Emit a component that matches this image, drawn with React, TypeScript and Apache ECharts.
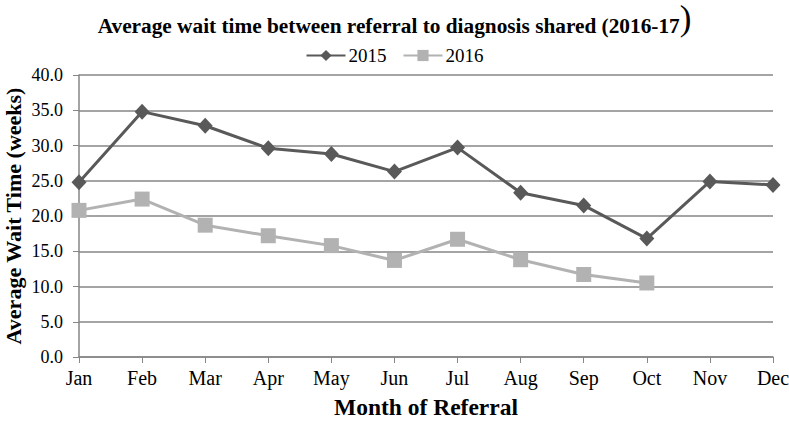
import React, { useEffect, useRef } from "react";
import * as echarts from "echarts";

const months = ["Jan", "Feb", "Mar", "Apr", "May", "Jun", "Jul", "Aug", "Sep", "Oct", "Nov", "Dec"];
const series2015 = [24.8, 34.8, 32.8, 29.6, 28.8, 26.3, 29.7, 23.3, 21.5, 16.8, 24.9, 24.4];
const series2016 = [20.8, 22.4, 18.7, 17.2, 15.8, 13.7, 16.7, 13.8, 11.7, 10.5, null, null];

const FONT = "'Liberation Serif', 'Times New Roman', serif";

export default function App() {
  const ref = useRef<HTMLDivElement>(null);
  useEffect(() => {
    if (!ref.current) return;
    const chart = echarts.init(ref.current, null, { renderer: "svg" });
    chart.setOption({
      animation: false,
      backgroundColor: "#ffffff",
      title: {
        text: "{t|Average wait time between referral to diagnosis shared (2016-17}{b|)}",
        left: "center",
        top: 0,
        padding: [0, 5, 0, 5],
        textStyle: {
          rich: {
            t: { fontFamily: FONT, fontWeight: "bold", fontSize: 21.3, color: "#000", verticalAlign: "bottom", lineHeight: 36 },
            b: { fontFamily: FONT, fontWeight: "normal", fontSize: 35, color: "#000", verticalAlign: "bottom", lineHeight: 36 },
          },
        },
      },
      legend: {
        top: 41,
        left: "center",
        itemWidth: 39,
        itemHeight: 14,
        itemGap: 16,
        textStyle: { fontFamily: FONT, fontSize: 19, color: "#000", padding: [0, 0, 0, -2] },
        data: ["2015", "2016"],
      },
      grid: { left: 79, right: 16, top: 75, bottom: 65, containLabel: false, outerBoundsMode: "none" },
      xAxis: {
        type: "category",
        data: months,
        boundaryGap: false,
        name: "Month of Referral",
        nameLocation: "middle",
        nameGap: 38,
        nameMoveOverlap: false,
        nameTextStyle: { fontFamily: FONT, fontWeight: "bold", fontSize: 23.5, color: "#000" },
        axisLine: { lineStyle: { color: "#868686", width: 1.5 } },
        axisTick: { show: true, length: 6, alignWithLabel: true, lineStyle: { color: "#868686" } },
        axisLabel: { fontFamily: FONT, fontSize: 20, color: "#000", margin: 11 },
        splitLine: { show: false },
      },
      yAxis: {
        type: "value",
        min: 0,
        max: 40,
        interval: 5,
        name: "Average Wait Time (weeks)",
        nameLocation: "middle",
        nameGap: 55,
        nameMoveOverlap: false,
        nameTextStyle: { fontFamily: FONT, fontWeight: "bold", fontSize: 22, color: "#000" },
        axisLine: { show: true, lineStyle: { color: "#868686", width: 1.5 } },
        axisTick: { show: true, length: 6, lineStyle: { color: "#868686" } },
        axisLabel: {
          fontFamily: FONT,
          fontSize: 18,
          color: "#000",
          margin: 16,
          formatter: (v: number) => v.toFixed(1),
        },
        splitLine: { lineStyle: { color: "#868686", width: 1.5 } },
      },
      series: [
        {
          name: "2015",
          type: "line",
          data: series2015,
          symbol: "diamond",
          symbolSize: [15, 16],
          showAllSymbol: true,
          itemStyle: { color: "#595959" },
          lineStyle: { color: "#595959", width: 3 },
        },
        {
          name: "2016",
          type: "line",
          data: series2016,
          symbol: "rect",
          symbolSize: 15,
          showAllSymbol: true,
          connectNulls: false,
          itemStyle: { color: "#b2b2b2" },
          lineStyle: { color: "#b2b2b2", width: 3 },
        },
      ],
    });
    return () => chart.dispose();
  }, []);
  return <div ref={ref} style={{ width: 789, height: 422, position: "absolute", left: 0, top: 0 }} />;
}
